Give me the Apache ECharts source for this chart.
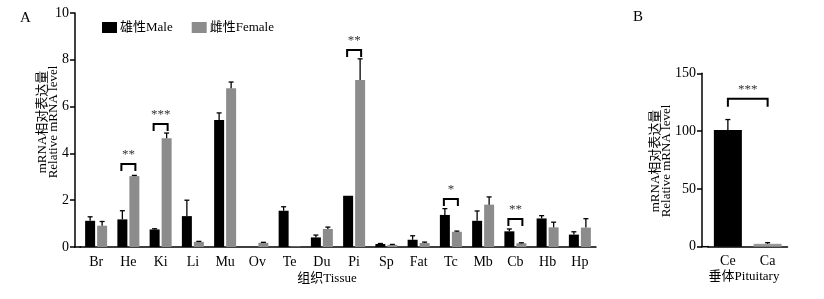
<!DOCTYPE html>
<html><head><meta charset="utf-8">
<script src="https://cdn.jsdelivr.net/npm/echarts@6/dist/echarts.min.js"></script>
<style>html,body{margin:0;padding:0;background:#fff}#c{width:824px;height:299px}</style>
</head><body><div id="c"></div>
<script>
// ---- data ----
const tissues = ['Br','He','Ki','Li','Mu','Ov','Te','Du','Pi','Sp','Fat','Tc','Mb','Cb','Hb','Hp'];
const maleValues   = [1.12,1.18,0.75,1.32,5.43,0,1.55,0.41,2.19,0.13,0.31,1.37,1.12,0.67,1.22,0.53];
const maleErrors   = [0.17,0.37,0.03,0.68,0.30,0,0.17,0.10,0,0.02,0.17,0.27,0.42,0.10,0.12,0.12];
const femaleValues = [0.91,3.03,4.65,0.22,6.78,0.18,0.02,0.77,7.14,0.09,0.17,0.65,1.81,0.16,0.84,0.83];
const femaleErrors = [0.18,0.03,0.22,0.02,0.27,0.02,0,0.08,0.90,0.02,0.04,0.03,0.33,0.02,0.22,0.38];
const sigCats   = ['He','Ki','Pi','Tc','Cb'];
const sigLevels = [3.55,5.26,8.42,2.05,1.2];
const sigLabels = ['**','***','**','*','**'];
const leftTicks = [0,2,4,6,8,10];

const pitCats   = ['Ce','Ca'];
const pitValues = [101,2.5];
const pitErrors = [9,1];
const pitSigLevel = 128;
const pitSigLabel = '***';
const rightTicks = [0,50,100,150];

const FONT = '"Liberation Serif","Noto Sans CJK SC",serif';
const chart = echarts.init(document.getElementById('c'), null, {renderer:'canvas'});

function errItem(offset){
  return function(params, api){
    const x = api.value(0), v = api.value(1), e = api.value(2);
    if (!(e > 0)) return null;
    const p0 = api.coord([x, v]);
    const p1 = api.coord([x, v + e]);
    const cx = p0[0] + offset;
    return {type:'group', children:[
      {type:'line', shape:{x1:cx,y1:p0[1],x2:cx,y2:p1[1]}, style:{stroke:'#000',lineWidth:1.3}},
      {type:'line', shape:{x1:cx-2.5,y1:p1[1],x2:cx+2.5,y2:p1[1]}, style:{stroke:'#000',lineWidth:1.3}}
    ]};
  };
}
function sigItem(halfSpan){
  return function(params, api){
    const x = api.value(0), lv = api.value(1);
    const p = api.coord([x, lv]);
    const x1 = p[0]-halfSpan, x2 = p[0]+halfSpan, y = p[1];
    return {type:'group', children:[
      {type:'polyline', shape:{points:[[x1,y+7],[x1,y],[x2,y],[x2,y+7]]}, style:{stroke:'#000',lineWidth:2,fill:null}},
      {type:'text', style:{text:api.value(2), x:p[0], y:y-3, textAlign:'center', textVerticalAlign:'bottom', font:'13px '+FONT, fill:'#333'}}
    ]};
  };
}

const leftErrMale = tissues.map((t,i)=>[i, maleValues[i], maleErrors[i]]);
const leftErrFemale = tissues.map((t,i)=>[i, femaleValues[i], femaleErrors[i]]);
const sigData = sigCats.map((c,i)=>[tissues.indexOf(c), sigLevels[i], sigLabels[i]]);
const pitErrData = pitCats.map((c,i)=>[i, pitValues[i], pitErrors[i]]);
const pitColors = ['#000','#9a9a9a'];

const axisLbl = {color:'#000', fontFamily:FONT, fontSize:14};
chart.setOption({
  animation:false,
  textStyle:{fontFamily:FONT},
  legend:{left:97, top:16, itemWidth:15, itemHeight:11, itemGap:19, icon:'rect',
    textStyle:{fontFamily:FONT, fontSize:13, color:'#000', padding:[0,0,0,-2]},
    data:['雄性Male','雌性Female']},
  grid:[
    {left:80, top:13, width:516, height:234},
    {left:708, top:73.3, width:79.5, height:173.4}
  ],
  xAxis:[
    {type:'category', gridIndex:0, data:tissues, axisTick:{show:false},
     axisLine:{lineStyle:{color:'#000',width:1.5}}, axisLabel:Object.assign({margin:8},axisLbl)},
    {type:'category', gridIndex:1, data:pitCats, axisTick:{show:false},
     axisLine:{lineStyle:{color:'#000',width:1.5}}, axisLabel:Object.assign({margin:8},axisLbl)}
  ],
  yAxis:[
    {type:'value', gridIndex:0, min:leftTicks[0], max:leftTicks[leftTicks.length-1], interval:2, offset:5,
     splitLine:{show:false}, axisLine:{show:true,lineStyle:{color:'#000',width:1.5}},
     axisTick:{show:true,length:5,lineStyle:{color:'#000',width:1.5}}, axisLabel:Object.assign({margin:6},axisLbl)},
    {type:'value', gridIndex:1, min:rightTicks[0], max:rightTicks[rightTicks.length-1], interval:50, offset:6,
     splitLine:{show:false}, axisLine:{show:true,lineStyle:{color:'#000',width:1.5}},
     axisTick:{show:true,length:5,lineStyle:{color:'#000',width:1.5}}, axisLabel:Object.assign({margin:6},axisLbl)}
  ],
  series:[
    {name:'雄性Male', type:'bar', xAxisIndex:0, yAxisIndex:0, data:maleValues, barWidth:10, barGap:'20%', itemStyle:{color:'#000'}},
    {name:'雌性Female', type:'bar', xAxisIndex:0, yAxisIndex:0, data:femaleValues, barWidth:10, barGap:'20%', itemStyle:{color:'#8c8c8c'}},
    {type:'custom', xAxisIndex:0, yAxisIndex:0, data:leftErrMale, renderItem:errItem(-6), z:5, silent:true},
    {type:'custom', xAxisIndex:0, yAxisIndex:0, data:leftErrFemale, renderItem:errItem(6), z:5, silent:true},
    {type:'custom', xAxisIndex:0, yAxisIndex:0, data:sigData, renderItem:sigItem(7), z:5, silent:true},
    {type:'bar', xAxisIndex:1, yAxisIndex:1, barWidth:28,
     data:pitValues.map((v,i)=>({value:v, itemStyle:{color:pitColors[i]}}))},
    {type:'custom', xAxisIndex:1, yAxisIndex:1, data:pitErrData, renderItem:errItem(0), z:5, silent:true},
    {type:'custom', xAxisIndex:1, yAxisIndex:1, data:[[0.5, pitSigLevel, pitSigLabel]],
     renderItem:function(params, api){
       const a = api.coord([0, api.value(1)]), b = api.coord([1, api.value(1)]);
       const y = a[1];
       return {type:'group', children:[
         {type:'polyline', shape:{points:[[a[0],y+8],[a[0],y],[b[0],y],[b[0],y+8]]}, style:{stroke:'#000',lineWidth:2,fill:null}},
         {type:'text', style:{text:api.value(2), x:(a[0]+b[0])/2, y:y-3, textAlign:'center', textVerticalAlign:'bottom', font:'13px '+FONT, fill:'#333'}}
       ]};
     }, z:5, silent:true}
  ],
  graphic:[
    {type:'line', shape:{x1:74,y1:247,x2:81,y2:247}, style:{stroke:'#000',lineWidth:1.5}},
    {type:'line', shape:{x1:701,y1:246.7,x2:709,y2:246.7}, style:{stroke:'#000',lineWidth:1.5}},
    {type:'text', left:20, top:11, style:{text:'A', font:'15px '+FONT, fill:'#000'}},
    {type:'text', left:633, top:10, style:{text:'B', font:'15px '+FONT, fill:'#000'}},
    {type:'text', x:48, y:122, rotation:Math.PI/2, style:{text:'mRNA相对表达量\nRelative mRNA level', font:'13px '+FONT, lineHeight:11.5, textAlign:'center', textVerticalAlign:'middle', fill:'#000'}},
    {type:'text', x:661, y:161, rotation:Math.PI/2, style:{text:'mRNA相对表达量\nRelative mRNA level', font:'13px '+FONT, lineHeight:11.5, textAlign:'center', textVerticalAlign:'middle', fill:'#000'}},
    {type:'text', x:327, y:279, style:{text:'组织Tissue', font:'13px '+FONT, textAlign:'center', textVerticalAlign:'middle', fill:'#000'}},
    {type:'text', x:744, y:277, style:{text:'垂体Pituitary', font:'13px '+FONT, textAlign:'center', textVerticalAlign:'middle', fill:'#000'}}
  ]
});
</script></body></html>
